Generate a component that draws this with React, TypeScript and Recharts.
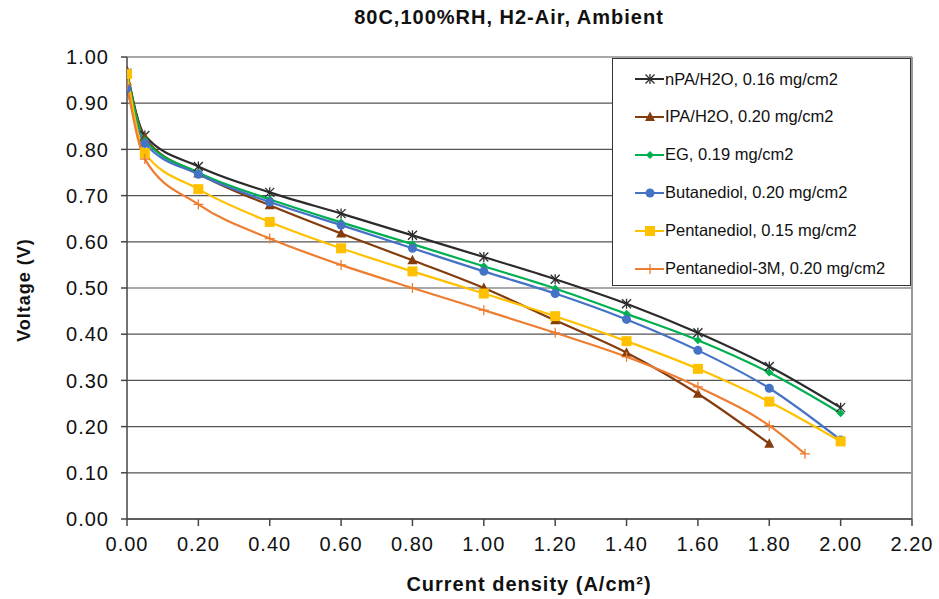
import { CartesianGrid, Line, LineChart, ReferenceLine, XAxis, YAxis } from "recharts";

// current density (A/cm2) at each measured point
const CURRENT = [0, 0.05, 0.2, 0.4, 0.6, 0.8, 1.0, 1.2, 1.4, 1.6, 1.8, 2.0];
const CURRENT_IPA = [0, 0.05, 0.2, 0.4, 0.6, 0.8, 1.0, 1.2, 1.4, 1.6, 1.8];
const CURRENT_3M = [0, 0.05, 0.2, 0.4, 0.6, 0.8, 1.0, 1.2, 1.4, 1.6, 1.8, 1.9];

// cell voltage (V)
const V_NPA = [0.965, 0.83, 0.763, 0.707, 0.661, 0.614, 0.567, 0.519, 0.466, 0.403, 0.33, 0.241];
const V_IPA = [0.97, 0.825, 0.748, 0.679, 0.618, 0.56, 0.5, 0.43, 0.36, 0.271, 0.163];
const V_EG = [0.965, 0.82, 0.75, 0.692, 0.642, 0.595, 0.547, 0.499, 0.444, 0.387, 0.317, 0.229];
const V_BUT = [0.932, 0.813, 0.746, 0.686, 0.636, 0.586, 0.536, 0.488, 0.432, 0.365, 0.283, 0.171];
const V_PENT = [0.963, 0.792, 0.714, 0.643, 0.586, 0.536, 0.488, 0.439, 0.385, 0.325, 0.254, 0.168];
const V_PENT3M = [0.94, 0.779, 0.681, 0.607, 0.55, 0.5, 0.452, 0.403, 0.351, 0.286, 0.202, 0.141];

const X_TICKS = [0, 0.2, 0.4, 0.6, 0.8, 1.0, 1.2, 1.4, 1.6, 1.8, 2.0, 2.2];
const Y_TICKS = [0, 0.1, 0.2, 0.3, 0.4, 0.5, 0.6, 0.7, 0.8, 0.9, 1.0];

const FONT = '"Liberation Sans", Arial, sans-serif';

type Shape = "star" | "triangle" | "diamond" | "circle" | "square" | "plus";

type Series = {
  name: string;
  x: number[];
  y: number[];
  color: string;
  shape: Shape;
};

const SERIES: Series[] = [
  { name: "nPA/H2O, 0.16 mg/cm2", x: CURRENT, y: V_NPA, color: "#2b2b2b", shape: "star" },
  { name: "IPA/H2O, 0.20 mg/cm2", x: CURRENT_IPA, y: V_IPA, color: "#843C0C", shape: "triangle" },
  { name: "EG, 0.19 mg/cm2", x: CURRENT, y: V_EG, color: "#00B050", shape: "diamond" },
  { name: "Butanediol, 0.20 mg/cm2", x: CURRENT, y: V_BUT, color: "#4472C4", shape: "circle" },
  { name: "Pentanediol, 0.15 mg/cm2", x: CURRENT, y: V_PENT, color: "#FFC000", shape: "square" },
  { name: "Pentanediol-3M, 0.20 mg/cm2", x: CURRENT_3M, y: V_PENT3M, color: "#ED7D31", shape: "plus" },
];

function Marker({ cx, cy, shape, color }: { cx: number; cy: number; shape: Shape; color: string }) {
  if (shape === "star") {
    return (
      <g stroke={color} strokeWidth={1.3}>
        <line x1={cx - 4.5} y1={cy - 4.5} x2={cx + 4.5} y2={cy + 4.5} />
        <line x1={cx - 4.5} y1={cy + 4.5} x2={cx + 4.5} y2={cy - 4.5} />
        <line x1={cx} y1={cy - 5} x2={cx} y2={cy + 5} />
      </g>
    );
  }
  if (shape === "plus") {
    return (
      <g stroke={color} strokeWidth={1.3}>
        <line x1={cx - 5} y1={cy} x2={cx + 5} y2={cy} />
        <line x1={cx} y1={cy - 5} x2={cx} y2={cy + 5} />
      </g>
    );
  }
  if (shape === "triangle") {
    return <polygon points={`${cx},${cy - 5.5} ${cx + 5},${cy + 4} ${cx - 5},${cy + 4}`} fill={color} />;
  }
  if (shape === "diamond") {
    return <polygon points={`${cx},${cy - 4} ${cx + 4},${cy} ${cx},${cy + 4} ${cx - 4},${cy}`} fill={color} />;
  }
  if (shape === "circle") {
    return <circle cx={cx} cy={cy} r={4.5} fill={color} />;
  }
  return <rect x={cx - 5} y={cy - 5} width={10} height={10} fill={color} />;
}

const dotFor = (s: Series) => (props: any) => {
  const { cx, cy, index } = props;
  if (cx == null || cy == null) return <g key={`${s.shape}-${index}`} />;
  return (
    <g key={`${s.shape}-${index}`}>
      <Marker cx={cx} cy={cy} shape={s.shape} color={s.color} />
    </g>
  );
};

export default function App() {
  const tickStyle = { fontSize: 20, fill: "#111", fontFamily: FONT, letterSpacing: 1 };

  return (
    <div
      style={{
        position: "absolute",
        left: 0,
        top: 0,
        width: 939,
        height: 599,
        background: "#fff",
        fontFamily: FONT,
      }}
    >
      <LineChart width={939} height={599} margin={{ top: 57, right: 27, bottom: 0, left: 0 }}>
        <CartesianGrid vertical={false} stroke="#555" strokeWidth={1.2} />
        <XAxis
          type="number"
          dataKey="x"
          domain={[0, 2.2]}
          ticks={X_TICKS}
          tickFormatter={(v: number) => v.toFixed(2)}
          tick={tickStyle}
          tickSize={7}
          tickMargin={11}
          height={80}
          axisLine={{ stroke: "#444", strokeWidth: 1.5 }}
          tickLine={{ stroke: "#444", strokeWidth: 1.5 }}
          allowDataOverflow
        />
        <YAxis
          type="number"
          dataKey="y"
          domain={[0, 1]}
          ticks={Y_TICKS}
          tickFormatter={(v: number) => v.toFixed(2)}
          tick={tickStyle}
          tickSize={6}
          tickMargin={12}
          width={127}
          axisLine={{ stroke: "#444", strokeWidth: 1.5 }}
          tickLine={{ stroke: "#444", strokeWidth: 1.5 }}
        />
        <ReferenceLine x={2.2} stroke="#9a9a9a" strokeWidth={2} />
        {SERIES.map((s) => (
          <Line
            key={s.name}
            data={s.x.map((x, i) => ({ x, y: s.y[i] }))}
            dataKey="y"
            name={s.name}
            type="monotone"
            stroke={s.color}
            strokeWidth={2.2}
            dot={dotFor(s)}
            activeDot={false}
            isAnimationActive={false}
          />
        ))}
      </LineChart>

      <div
        style={{
          position: "absolute",
          left: 0,
          width: 1018,
          top: 6,
          textAlign: "center",
          fontSize: 20,
          fontWeight: "bold",
          letterSpacing: 1,
          color: "#111",
        }}
      >
        80C,100%RH, H2-Air, Ambient
      </div>

      <div
        style={{
          position: "absolute",
          left: 24,
          top: 290,
          transform: "translate(-50%, -50%) rotate(-90deg)",
          whiteSpace: "nowrap",
          fontSize: 18,
          fontWeight: "bold",
          letterSpacing: 1,
          color: "#111",
        }}
      >
        Voltage (V)
      </div>

      <div
        style={{
          position: "absolute",
          left: 529,
          top: 584,
          transform: "translate(-50%, -50%)",
          whiteSpace: "nowrap",
          fontSize: 20,
          fontWeight: "bold",
          letterSpacing: 1,
          color: "#111",
        }}
      >
        Current density (A/cm²)
      </div>

      <div
        style={{
          position: "absolute",
          left: 612,
          top: 58,
          width: 299,
          height: 228,
          border: "1px solid #333",
          background: "#fff",
          boxSizing: "border-box",
        }}
      >
        {SERIES.map((s, i) => (
          <div
            key={s.name}
            style={{
              position: "absolute",
              left: 0,
              top: 1 + i * 37.9,
              height: 38,
              display: "flex",
              alignItems: "center",
            }}
          >
            <svg width={52} height={16} style={{ display: "block", marginLeft: 0 }}>
              <line x1={22} y1={8} x2={51} y2={8} stroke={s.color} strokeWidth={2} />
              <Marker cx={37} cy={8} shape={s.shape} color={s.color} />
            </svg>
            <span style={{ fontSize: 16.5, color: "#111", whiteSpace: "nowrap" }}>{s.name}</span>
          </div>
        ))}
      </div>
    </div>
  );
}
